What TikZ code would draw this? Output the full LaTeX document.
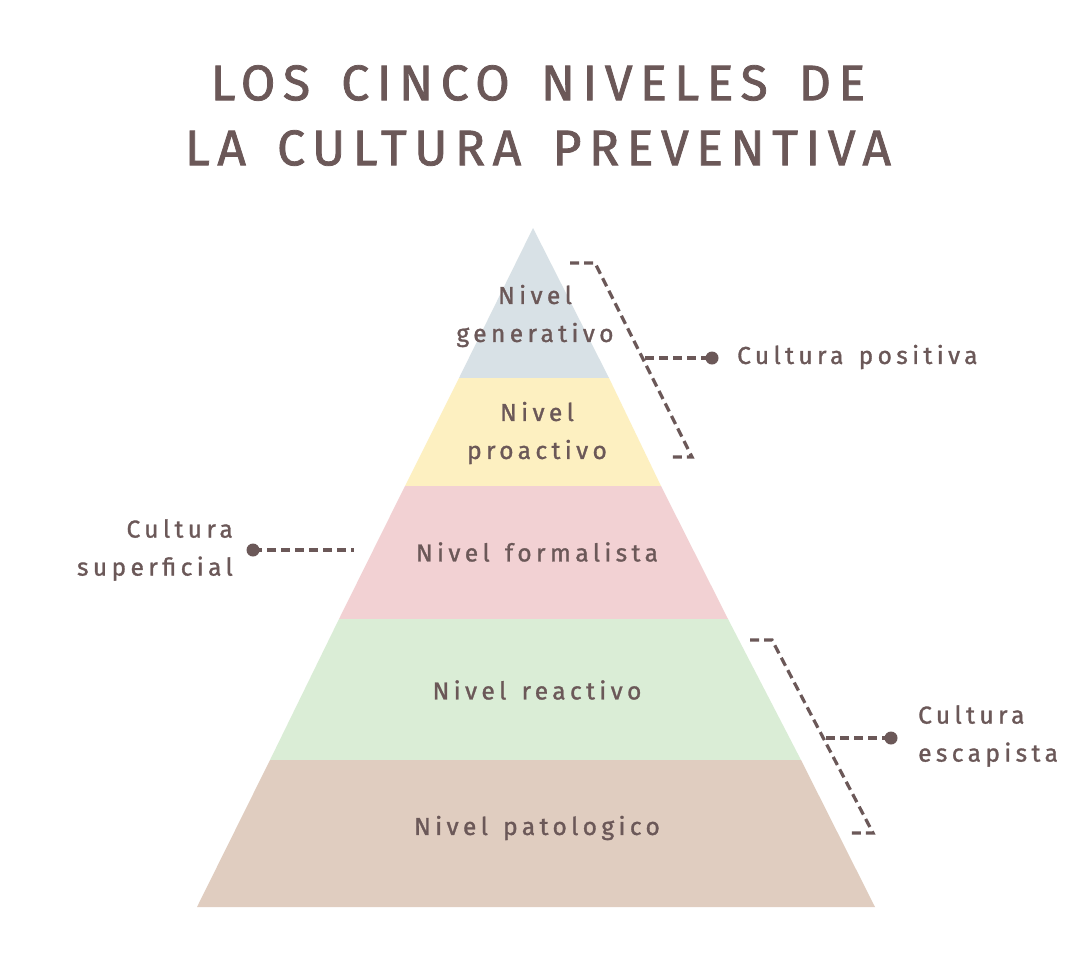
\documentclass[tikz,border=0pt]{standalone}
\usepackage{fontspec}
\setmainfont{Fira Sans}
\newfontfamily\titlefont[LetterSpace=15,FakeBold=1.5,WordSpace=1.5]{Fira Sans}
\newfontfamily\labfont[LetterSpace=18,FakeBold=1.2,WordSpace=1.4]{Fira Sans}
\definecolor{ink}{HTML}{6B5858}
\definecolor{cblue}{HTML}{D8E1E6}
\definecolor{cyellow}{HTML}{FDF0C1}
\definecolor{cpink}{HTML}{F2D1D3}
\definecolor{cgreen}{HTML}{DAEDD6}
\definecolor{cbrown}{HTML}{E0CDC0}
\begin{document}
\begin{tikzpicture}[x=1pt,y=-1pt,
  title/.style={text=ink,font=\titlefont\fontsize{50}{60}\selectfont,inner sep=0},
  lab/.style={text=ink,font=\labfont\fontsize{24.5}{38}\selectfont,inner sep=0,align=center},
  bracket/.style={draw=ink,line width=3.2pt,dash pattern=on 9pt off 5pt},
  dotm/.style={circle,fill=ink,inner sep=0,minimum size=13pt}]
\useasboundingbox (0,0) rectangle (1076,970);
\fill[white] (0,0) rectangle (1076,970);
% pyramid bands
\fill[cblue]   (533,228) -- (609,378) -- (459,378) -- cycle;
\fill[cyellow] (459,378) -- (609,378) -- (661,486) -- (405,486) -- cycle;
\fill[cpink]   (405,486) -- (661,486) -- (728,619) -- (339,619) -- cycle;
\fill[cgreen]  (339,619) -- (728,619) -- (801,760) -- (270,760) -- cycle;
\fill[cbrown]  (270,760) -- (801,760) -- (875,907) -- (197,907) -- cycle;
% title
\node[title] (t1) at (538,83) {LOS CINCO NIVELES DE};
\node[title] (t2) at (538,148) {LA CULTURA PREVENTIVA};
% level labels
\node[lab] (l1) at (535,316) {Nivel\\generativo};
\node[lab] (l2) at (537,433) {Nivel\\proactivo};
\node[lab] (l3) at (537,552) {Nivel formalista};
\node[lab] (l4) at (537,690) {Nivel reactivo};
\node[lab] (l5) at (537,828) {Nivel patologico};
% culture labels
\node[lab,anchor=west] (c1) at (737,357) {Cultura positiva};
\node[lab,align=right,anchor=east] (c2) at (233,550) {Cultura\\superficial};
\node[lab,align=left,anchor=west] (c3) at (918,736) {Cultura\\escapista};
% top right bracket
\coordinate (b1a) at (570,263);
\coordinate (b1b) at (595,263);
\coordinate (b1c) at (692,457);
\coordinate (b1d) at (668,457);
\coordinate (b1m) at (645,358);
\node[dotm] (d1) at (712,358) {};
\draw[bracket] (b1a) -- (b1b) -- (b1c) -- (b1d);
\draw[bracket] (b1m) -- (d1.center);
% left connector
\node[dotm] (d2) at (253,550) {};
\coordinate (e2) at (354,550);
\draw[bracket] (d2.center) -- (e2);
% bottom right bracket
\coordinate (b3a) at (750,640);
\coordinate (b3b) at (772,640);
\coordinate (b3c) at (873,833);
\coordinate (b3d) at (850,833);
\coordinate (b3m) at (826,738);
\node[dotm] (d3) at (891,738) {};
\draw[bracket] (b3a) -- (b3b) -- (b3c) -- (b3d);
\draw[bracket] (b3m) -- (d3.center);
\end{tikzpicture}
\end{document}
